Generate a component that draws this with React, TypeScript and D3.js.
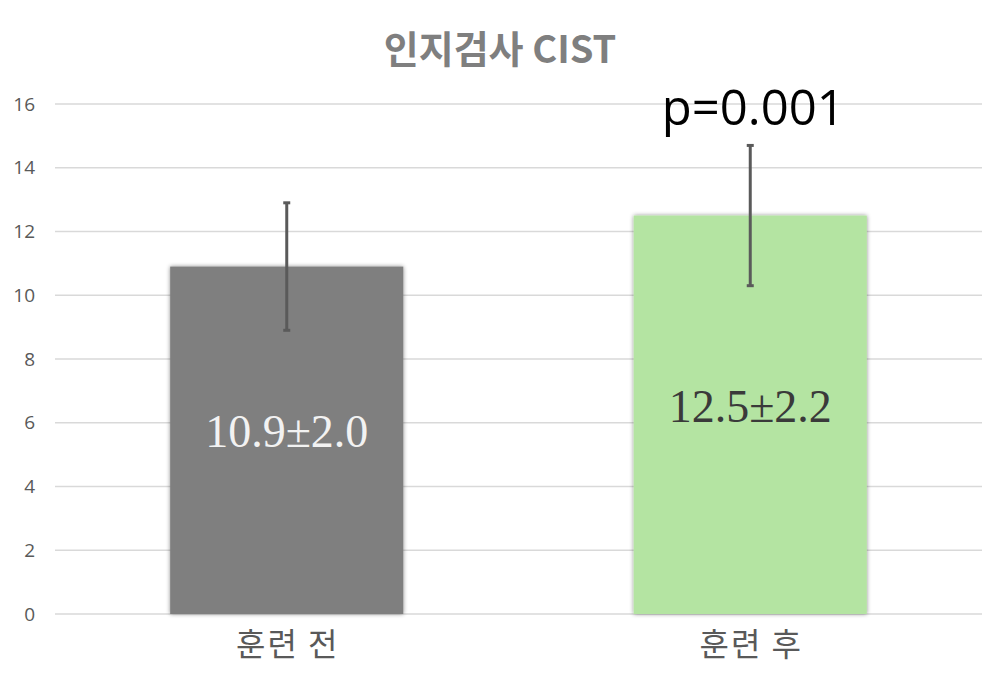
import React from 'react';
import * as d3 from 'd3';

// chart data
const categories = ['훈련 전', '훈련 후'];
const means = [10.9, 12.5];
const sds = [2.0, 2.2];
const valueLabels = ['10.9±2.0', '12.5±2.2'];
const yTicks = [0, 2, 4, 6, 8, 10, 12, 14, 16];
const barColors = ['#7f7f7f', '#b4e4a2'];
const labelColors = ['#f2f2f2', '#3a3a3a'];

const width = 1000;
const height = 674;
const margin = { top: 104, right: 18, bottom: 60, left: 55 };

const App: React.FC = () => {
  const x = d3
    .scaleBand<string>()
    .domain(categories)
    .range([margin.left, width - margin.right])
    .paddingInner(0.497)
    .paddingOuter(0.2485);

  const y = d3
    .scaleLinear()
    .domain([0, 16])
    .range([height - margin.bottom, margin.top]);

  const textFont = '"Noto Sans CJK KR", "Open Sans", sans-serif';

  return (
    <svg
      width={width}
      height={height}
      style={{ position: 'absolute', left: 0, top: 0, background: '#fff' }}
    >
      <defs>
        <filter id="barShadow" x="-10%" y="-10%" width="120%" height="120%">
          <feDropShadow dx="0" dy="0" stdDeviation="2.2" floodColor="#000" floodOpacity="0.45" />
        </filter>
      </defs>

      {/* title */}
      <text
        x={width / 2}
        y={63}
        textAnchor="middle"
        fontFamily={textFont}
        fontWeight="bold"
        fontSize={38}
        fill="#7f7f7f"
      >
        인지검사 CIST
      </text>

      {/* grid + y ticks */}
      {yTicks.map((t) => (
        <g key={t}>
          <line
            x1={margin.left}
            x2={982}
            y1={y(t)}
            y2={y(t)}
            stroke="#d9d9d9"
            strokeWidth={1.3}
          />
          <text
            x={35}
            y={y(t)}
            dy="0.35em"
            textAnchor="end"
            fontFamily='"Open Sans", sans-serif'
            fontSize={19}
            fill="#595959"
          >
            {t}
          </text>
        </g>
      ))}

      {/* bars */}
      {categories.map((c, i) => (
        <rect
          key={c}
          x={x(c) ?? 0}
          y={y(means[i])}
          width={x.bandwidth()}
          height={y(0) - y(means[i])}
          fill={barColors[i]}
          filter="url(#barShadow)"
        />
      ))}

      {/* error bars */}
      {categories.map((c, i) => {
        const cx = (x(c) ?? 0) + x.bandwidth() / 2;
        const top = y(means[i] + sds[i]);
        const bottom = y(means[i] - sds[i]);
        return (
          <g key={c} stroke="#5a5a5a" strokeWidth={3}>
            <line x1={cx} x2={cx} y1={top} y2={bottom} />
            <line x1={cx - 3.5} x2={cx + 3.5} y1={top} y2={top} />
            <line x1={cx - 3.5} x2={cx + 3.5} y1={bottom} y2={bottom} />
          </g>
        );
      })}

      {/* value labels inside bars */}
      {categories.map((c, i) => (
        <text
          key={c}
          x={(x(c) ?? 0) + x.bandwidth() / 2}
          y={i === 0 ? 447 : 422}
          textAnchor="middle"
          fontFamily='"Liberation Serif", "Times New Roman", serif'
          fontSize={46}
          fill={labelColors[i]}
        >
          {valueLabels[i]}
        </text>
      ))}

      {/* p value */}
      <text
        x={(x(categories[1]) ?? 0) + x.bandwidth() / 2 + 3}
        y={125}
        textAnchor="middle"
        fontFamily='"Open Sans", sans-serif'
        fontSize={49}
        fill="#000"
      >
        p=0.001
      </text>

      {/* category labels */}
      {categories.map((c) => (
        <text
          key={c}
          x={(x(c) ?? 0) + x.bandwidth() / 2 + 1}
          y={656}
          textAnchor="middle"
          fontFamily={textFont}
          fontSize={32}
          letterSpacing={2}
          fill="#595959"
        >
          {c}
        </text>
      ))}
    </svg>
  );
};

export default App;
